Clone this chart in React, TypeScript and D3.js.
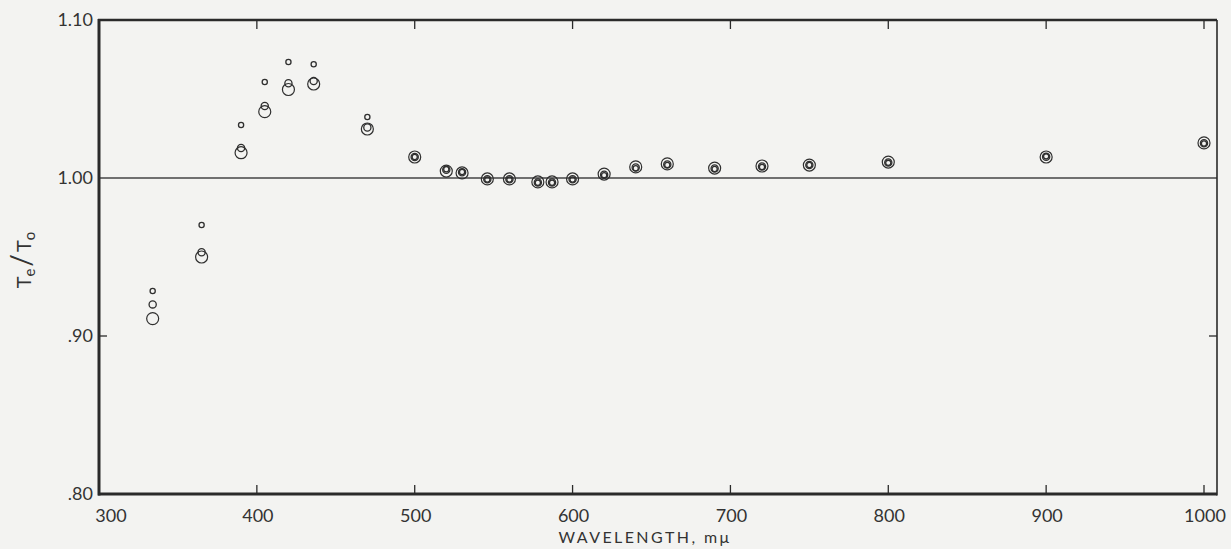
import React from "react";
import * as d3 from "d3";

const wavelengths = [334, 365, 390, 405, 420, 436, 470, 500, 520, 530, 546, 560, 578, 587, 600, 620, 640, 660, 690, 720, 750, 800, 900, 1000];
const largeVals = [0.911, 0.950, 1.016, 1.042, 1.056, 1.0595, 1.031, 1.0133, 1.0044, 1.0032, 0.9994, 0.9994, 0.9975, 0.9975, 0.9994, 1.0025, 1.007, 1.0089, 1.0063, 1.0076, 1.0082, 1.0101, 1.0133, 1.0222];
const mediumVals = [0.920, 0.953, 1.019, 1.0456, 1.060, 1.0614, 1.032, 1.0133, 1.0052, 1.0036, 0.9992, 0.9992, 0.9972, 0.9972, 0.9992, 1.0021, 1.0066, 1.0085, 1.006, 1.0073, 1.0082, 1.0098, 1.0135, 1.022];
const smallVals = [0.9285, 0.9703, 1.0335, 1.0608, 1.0734, 1.072, 1.0386, 1.0133, 1.0055, 1.0038, 0.999, 0.999, 0.997, 0.997, 0.999, 1.0018, 1.0062, 1.0082, 1.0057, 1.007, 1.0082, 1.0096, 1.0137, 1.0218];
const xTicks = [300, 400, 500, 600, 700, 800, 900, 1000];
const yTicks = [0.8, 0.9, 1.0, 1.1];
const yTickLabels = [".80", ".90", "1.00", "1.10"];

const W = 1231;
const H = 549;
const font = "Lato, 'Open Sans', 'DejaVu Sans', sans-serif";
const ink = "#2a2a2a";

export default function App() {
  const x = d3.scaleLinear().domain([300, 1000]).range([99, 1204]);
  const y = d3.scaleLinear().domain([0.8, 1.1]).range([494, 20]);
  const left = 99, right = 1217, top = 20, bottom = 494;

  const series = [
    { vals: largeVals, r: 6, sw: 1.2 },
    { vals: mediumVals, r: 3.6, sw: 1.3 },
    { vals: smallVals, r: 2.6, sw: 1.3 },
  ];

  return (
    <svg width={W} height={H} style={{ position: "absolute", left: 0, top: 0, background: "#f3f3f1" }}>
      <rect x={0} y={0} width={W} height={H} fill="#f3f3f1" />
      <line x1={left} x2={right} y1={y(1.0)} y2={y(1.0)} stroke="#444" strokeWidth={1.3} />
      <line x1={left} x2={left} y1={top - 1} y2={bottom + 1.5} stroke={ink} strokeWidth={3} />
      <line x1={left - 1} x2={right} y1={bottom} y2={bottom} stroke={ink} strokeWidth={3} />
      <line x1={left - 1} x2={right} y1={top} y2={top} stroke={ink} strokeWidth={2.4} />
      <line x1={right} x2={right} y1={top} y2={bottom + 1.5} stroke={ink} strokeWidth={1.6} />
      {xTicks.slice(1).map((t) => (
        <g key={"xt" + t}>
          <line x1={x(t)} x2={x(t)} y1={bottom} y2={bottom - 9} stroke={ink} strokeWidth={1.3} />
          <line x1={x(t)} x2={x(t)} y1={top} y2={top + 9} stroke={ink} strokeWidth={1.3} />
        </g>
      ))}
      {[0.9].map((t) => (
        <g key={"yt" + t}>
          <line x1={left} x2={left + 8} y1={y(t)} y2={y(t)} stroke={ink} strokeWidth={1.3} />
          <line x1={right} x2={right - 8} y1={y(t)} y2={y(t)} stroke={ink} strokeWidth={1.3} />
        </g>
      ))}
      {xTicks.map((t) => (
        <text key={"xl" + t} x={t === 300 ? x(t) + 12 : x(t) + 1} y={522} textAnchor="middle" fontFamily={font} fontSize={18} fill="#333">
          {t}
        </text>
      ))}
      {yTicks.map((t, i) => (
        <text key={"yl" + t} x={93} y={y(t) + 6} textAnchor="end" fontFamily={font} fontSize={18} fill="#333">
          {yTickLabels[i]}
        </text>
      ))}
      <text x={645} y={543} textAnchor="middle" fontFamily={font} fontSize={16} letterSpacing={2.4} fill="#333">
        WAVELENGTH, mμ
      </text>
      <text transform="translate(31,260) rotate(-90)" textAnchor="middle" fontFamily={font} fontSize={20} fill="#333">
        T<tspan fontSize={15} dy={4}>e</tspan>
        <tspan dy={-4} fontSize={28} dx={2}>/</tspan>
        <tspan dx={2}>T</tspan><tspan fontSize={15} dy={4}>o</tspan>
      </text>
      {series.map((s, si) => (
        <g key={"s" + si}>
          {wavelengths.map((w, i) => (
            <circle key={w} cx={x(w)} cy={y(s.vals[i])} r={s.r} fill="none" stroke="#2f2f2f" strokeWidth={s.sw} />
          ))}
        </g>
      ))}
    </svg>
  );
}
